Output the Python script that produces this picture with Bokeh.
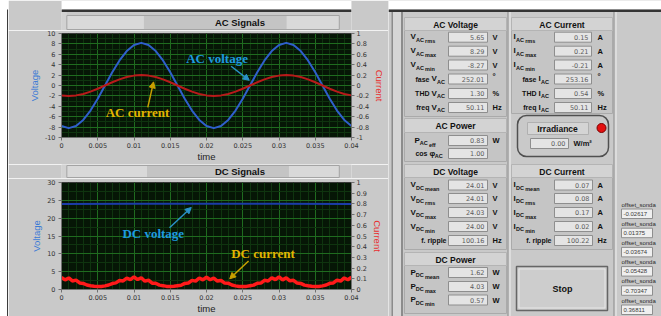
from bokeh.plotting import figure
from bokeh.models import Range1d, LinearAxis, FixedTicker, Label, Arrow, NormalHead
from bokeh.layouts import row, column
from bokeh.core.properties import value
from bokeh.embed import file_html
from bokeh.resources import INLINE

# ------------------------------------------------------------------ data
ac_time = [round(i * 0.001, 3) for i in range(41)]
ac_voltage = [-7.80, -8.20, -7.80, -6.63, -4.82, -2.53, 0.00, 2.53, 4.82, 6.63,
              7.80, 8.20, 7.80, 6.63, 4.82, 2.53, 0.00, -2.53, -4.82, -6.63,
              -7.80, -8.20, -7.80, -6.63, -4.82, -2.53, 0.00, 2.53, 4.82, 6.63,
              7.80, 8.20, 7.80, 6.63, 4.82, 2.53, 0.00, -2.53, -4.82, -6.63, -7.80]
ac_current = [-0.190, -0.200, -0.190, -0.162, -0.118, -0.062, 0.000, 0.062, 0.118, 0.162,
              0.190, 0.200, 0.190, 0.162, 0.118, 0.062, 0.000, -0.062, -0.118, -0.162,
              -0.190, -0.200, -0.190, -0.162, -0.118, -0.062, 0.000, 0.062, 0.118, 0.162,
              0.190, 0.200, 0.190, 0.162, 0.118, 0.062, 0.000, -0.062, -0.118, -0.162, -0.190]

dc_time = [round(i * 0.0005, 4) for i in range(81)]
dc_current = [0.112, 0.090, 0.108, 0.080, 0.088, 0.061, 0.057, 0.042, 0.035, 0.030,
              0.027, 0.029, 0.034, 0.042, 0.056, 0.062, 0.084, 0.080, 0.106, 0.092,
              0.118, 0.093, 0.110, 0.078, 0.087, 0.059, 0.058, 0.041, 0.036, 0.029,
              0.027, 0.030, 0.035, 0.040, 0.057, 0.061, 0.085, 0.078, 0.108, 0.090,
              0.116, 0.091, 0.107, 0.079, 0.085, 0.060, 0.059, 0.042, 0.034, 0.029,
              0.028, 0.029, 0.035, 0.041, 0.058, 0.060, 0.086, 0.080, 0.110, 0.092,
              0.117, 0.090, 0.109, 0.081, 0.086, 0.060, 0.057, 0.041, 0.035, 0.030,
              0.027, 0.029, 0.034, 0.042, 0.058, 0.061, 0.087, 0.079, 0.108, 0.091,
              0.114]
dc_voltage_time = [0.0, 0.01, 0.02, 0.03, 0.04]
dc_voltage = [24.00, 24.01, 24.02, 24.01, 24.00]

time_ticks = [0, 0.005, 0.01, 0.015, 0.02, 0.025, 0.03, 0.035, 0.04]
time_labels = ["0", "0.005", "0.01", "0.015", "0.02", "0.025", "0.03", "0.035", "0.04"]
ac_v_ticks = [-10, -8, -6, -4, -2, 0, 2, 4, 6, 8, 10]
ac_v_labels = ["-10", "-8", "-6", "-4", "-2", "0", "2", "4", "6", "8", "10"]
ac_i_ticks = [-1, -0.8, -0.6, -0.4, -0.2, 0, 0.2, 0.4, 0.6, 0.8, 1]
ac_i_labels = ["-1", "-0.8", "-0.6", "-0.4", "-0.2", "0", "0.2", "0.4", "0.6", "0.8", "1"]
dc_v_ticks = [0, 5, 10, 15, 20, 25, 30]
dc_v_labels = ["0", "5", "10", "15", "20", "25", "30"]
dc_i_ticks = [0, 0.1, 0.2, 0.3, 0.4, 0.5, 0.6, 0.7, 0.8, 0.9, 1]
dc_i_labels = ["0", "0.1", "0.2", "0.3", "0.4", "0.5", "0.6", "0.7", "0.8", "0.9", "1"]

ac_voltage_values = ["5.65", "8.29", "-8.27", "252.01", "1.30", "50.11"]
ac_voltage_units = ["V", "V", "V", "°", "%", "Hz"]
ac_current_values = ["0.15", "0.21", "-0.21", "253.16", "0.54", "50.11"]
ac_current_units = ["A", "A", "A", "°", "%", "Hz"]
ac_power_values = ["0.83", "1.00"]
ac_power_units = ["W", ""]
dc_voltage_values = ["24.01", "24.01", "24.03", "24.00", "100.16"]
dc_voltage_units = ["V", "V", "V", "V", "Hz"]
dc_current_values = ["0.07", "0.08", "0.17", "0.02", "100.22"]
dc_current_units = ["A", "A", "A", "A", "Hz"]
dc_power_values = ["1.62", "4.03", "0.57"]
dc_power_units = ["W", "W", "W"]
irradiance_value = "0.00"
offset_values = ["-0.02617", "0.01375", "-0.03674", "-0.05428", "-0.70347", "0.36811"]

# ------------------------------------------------------------------ style
PANEL = "#c9c9c9"
SANS = "Liberation Sans"
SERIF = "Liberation Serif"


def txt(p, x, y, s, size="7px", color="#111111", bold=True, align="left",
        baseline="middle", font=SANS):
    p.text(x=[x], y=[y], text=[s], text_font=value(font), text_font_size=size,
           text_color=color, text_font_style="bold" if bold else "normal",
           text_align=align, text_baseline=baseline)


def box(p, l, r, t, b, fill, line=None, lw=1):
    p.quad(left=[l], right=[r], top=[t], bottom=[b], fill_color=fill,
           line_color=line, line_width=lw)


def deco_fig(w, h, xr, yr, bg=PANEL):
    p = figure(width=w, height=h, x_range=Range1d(*xr), y_range=Range1d(*yr),
               x_axis_type=None, y_axis_type=None, output_backend="svg",
               toolbar_location=None, min_border=0)
    p.background_fill_color = bg
    p.border_fill_color = bg
    p.outline_line_color = None
    p.grid.visible = False
    return p


def overrides(ticks, labels):
    return dict(zip(ticks, labels))


def style_chart(p):
    p.background_fill_color = "#061606"
    p.border_fill_color = PANEL
    p.outline_line_color = "#3a3a3a"
    p.xaxis.ticker = FixedTicker(ticks=time_ticks,
                                 minor_ticks=[round(i * 0.001, 3) for i in range(41)])
    p.xaxis.major_label_overrides = overrides(time_ticks, time_labels)
    p.xaxis.axis_label = "time"
    p.xaxis.axis_label_text_color = "#222222"
    for ax in p.axis:
        ax.major_label_text_font = "DejaVu Sans"
        ax.major_label_text_font_size = "6.5px"
        ax.major_label_text_color = "#333333"
        ax.major_tick_out = 3
        ax.major_tick_in = 0
        ax.minor_tick_line_color = None
        ax.axis_line_color = "#707070"
        ax.major_tick_line_color = "#707070"
        ax.axis_label_text_font = SANS
        ax.axis_label_text_font_style = "normal"
        ax.axis_label_text_font_size = "9.5px"
        ax.major_label_standoff = 2
        ax.axis_label_standoff = 2
    p.xaxis.axis_label_standoff = 0
    p.xaxis.major_label_standoff = 1
    p.xgrid.grid_line_color = "#1f6b1f"
    p.ygrid.grid_line_color = "#1f6b1f"
    p.xgrid.minor_grid_line_color = "#0f340f"
    p.ygrid.minor_grid_line_color = "#0f340f"


# ------------------------------------------------------------------ AC chart
ac = figure(width=380, height=134, x_range=Range1d(0, 0.04), y_range=Range1d(-10, 10),
            output_backend="svg", toolbar_location=None,
            min_border_left=53, min_border_right=35, min_border_top=3, min_border_bottom=21)
ac.extra_y_ranges = {"cur": Range1d(-1, 1)}
ac.add_layout(LinearAxis(y_range_name="cur", axis_label="Current",
                         ticker=FixedTicker(ticks=ac_i_ticks),
                         major_label_overrides=overrides(ac_i_ticks, ac_i_labels)), "right")
ac.yaxis[0].ticker = FixedTicker(ticks=ac_v_ticks, minor_ticks=list(range(-10, 11)))
ac.yaxis[0].major_label_overrides = overrides(ac_v_ticks, ac_v_labels)
ac.yaxis[0].axis_label = "Voltage"
style_chart(ac)
ac.yaxis[0].axis_label_text_color = "#3a7ad6"
ac.yaxis[1].axis_label_text_color = "#e83030"

ac.line(ac_time, ac_voltage, line_color="#2f5fcc", line_width=2)
ac.line(ac_time, ac_current, y_range_name="cur", line_color="#b81a1a", line_width=2)

ac.add_layout(Label(x=0.0172, y=5.2, text="AC voltage", text_font=SERIF,
                    text_font_style="bold", text_font_size="13px",
                    text_color="#1e9be0", text_baseline="middle"))
ac.add_layout(Arrow(end=NormalHead(size=6, fill_color="#2a92c8", line_color="#2a92c8"),
                    x_start=0.0234, y_start=3.7, x_end=0.0259, y_end=1.0,
                    line_color="#2a92c8", line_width=1.5))
ac.add_layout(Label(x=0.0061, y=-5.1, text="AC current", text_font=SERIF,
                    text_font_style="bold", text_font_size="13px",
                    text_color="#e2b400", text_baseline="middle"))
ac.add_layout(Arrow(end=NormalHead(size=6, fill_color="#c8a000", line_color="#c8a000"),
                    x_start=0.0119, y_start=-4.2, x_end=0.0127, y_end=0.7,
                    line_color="#c8a000", line_width=1.5))

# ------------------------------------------------------------------ DC chart
dc = figure(width=380, height=138, x_range=Range1d(0, 0.04), y_range=Range1d(0, 30),
            output_backend="svg", toolbar_location=None,
            min_border_left=50, min_border_right=36, min_border_top=4, min_border_bottom=25)
dc.extra_y_ranges = {"cur": Range1d(0, 1)}
dc.add_layout(LinearAxis(y_range_name="cur", axis_label="Current",
                         ticker=FixedTicker(ticks=dc_i_ticks),
                         major_label_overrides=overrides(dc_i_ticks, dc_i_labels)), "right")
dc.yaxis[0].ticker = FixedTicker(ticks=dc_v_ticks,
                                 minor_ticks=[0, 2.5, 5, 7.5, 10, 12.5, 15, 17.5, 20, 22.5, 25, 27.5, 30])
dc.yaxis[0].major_label_overrides = overrides(dc_v_ticks, dc_v_labels)
dc.yaxis[0].axis_label = "Voltage"
style_chart(dc)
dc.yaxis[0].axis_label_text_color = "#3a7ad6"
dc.yaxis[1].axis_label_text_color = "#e83030"

dc.line(dc_voltage_time, dc_voltage, line_color="#1b3ca8", line_width=2)
dc.line(dc_time, dc_current, y_range_name="cur", line_color="#ff1a1a", line_width=3.5)

dc.add_layout(Label(x=0.0084, y=15.8, text="DC voltage", text_font=SERIF,
                    text_font_style="bold", text_font_size="13px",
                    text_color="#1e9be0", text_baseline="middle"))
dc.add_layout(Arrow(end=NormalHead(size=6, fill_color="#2a92c8", line_color="#2a92c8"),
                    x_start=0.0149, y_start=17.3, x_end=0.0179, y_end=23.0,
                    line_color="#2a92c8", line_width=1.5))
dc.add_layout(Label(x=0.0234, y=10.2, text="DC current", text_font=SERIF,
                    text_font_style="bold", text_font_size="13px",
                    text_color="#e2b400", text_baseline="middle"))
dc.add_layout(Arrow(end=NormalHead(size=6, fill_color="#c8a000", line_color="#c8a000"),
                    x_start=0.0258, y_start=8.0, x_end=0.0232, y_end=3.0,
                    line_color="#c8a000", line_width=1.5))

# ------------------------------------------------------------------ left white margin
strip = deco_fig(8, 316, (0, 8), (316, 0), bg="#ffffff")
box(strip, 6.5, 8, 9, 316, "#3c3c3c")

# ------------------------------------------------------------------ title bars
act = deco_fig(380, 30, (8, 388), (30, 0))
box(act, 8, 388, 0, 9, "#ffffff")
box(act, 8, 388, 9, 11.5, "#343434")
box(act, 8, 15, 11.5, 30, "#d2d2d2")
box(act, 15, 372, 15, 29, "#d9d9d9", "#a4a4a4")
box(act, 116, 303, 15.5, 28.5, "#c4c4c4")
txt(act, 209, 22.3, "AC Signals", "9.5px")

dct = deco_fig(380, 14, (8, 388), (178, 164))
box(dct, 8, 15, 164, 178, "#d2d2d2")
box(dct, 15, 372, 165, 177, "#d9d9d9", "#a4a4a4")
box(dct, 120, 306, 165.5, 176.5, "#c4c4c4")
txt(dct, 209, 171.2, "DC Signals", "9.5px")

# ------------------------------------------------------------------ right panel
rp = deco_fig(273, 316, (388, 661), (316, 0))
box(rp, 388, 661, 0, 9, "#ffffff")
box(rp, 388, 661, 9, 11.5, "#343434")
box(rp, 391, 392.5, 11.5, 316, "#8c8c8c")
box(rp, 392.5, 400.5, 11.5, 316, "#d6d6d6")
box(rp, 400.5, 402.5, 11.5, 316, "#8c8c8c")
box(rp, 507, 508.2, 11.5, 316, "#8a8a8a")
box(rp, 508.2, 510.5, 11.5, 316, "#dcdcdc")
box(rp, 613, 614.2, 11.5, 316, "#8a8a8a")
box(rp, 614.2, 616.5, 11.5, 316, "#dcdcdc")

# group bodies and header bands
for l, r, t, b in [(404, 506, 30, 116), (404, 506, 132, 161), (404, 506, 177, 249),
                   (404, 506, 265, 313), (511, 612, 30, 113), (511, 612, 177, 249)]:
    box(rp, l, r, t, b, "#c5c5c5", "#aaaaaa")
for l, r, t, b, name in [(404, 506, 17, 30, "AC Voltage"), (511, 612, 17, 30, "AC Current"),
                         (404, 506, 118, 132, "AC Power"), (404, 506, 164, 177, "DC Voltage"),
                         (511, 612, 164, 177, "DC Current"), (404, 506, 252, 265, "DC Power")]:
    box(rp, l, r, t, b, "#d3d3d3", "#b4b4b4")
    txt(rp, (l + r) / 2, (t + b) / 2 + 0.5, name, "8.5px", align="center")

MAIN_W = {"V": 5.5, "I": 2.6, "P": 5.3, "φ": 5.2}


def row_label(p, xm, y, pre, main, sub, sub2):
    if pre:
        txt(p, xm - 2 if main else xm, y, pre, "7px", align="right")
    if main:
        txt(p, xm, y - 0.5, main, "8px")
        xs = xm + MAIN_W[main]
        txt(p, xs, y + 2.5, sub, "5.5px")
        if sub2:
            txt(p, xs + 3.8 * len(sub) + 1.5, y + 4, sub2, "5.5px")


def value_row(p, x0, x1, y, val, unit, ux):
    box(p, x0, x1, y - 5, y + 5, "#e4e4e4", "#8e8e8e")
    txt(p, x1 - 3, y + 0.3, val, "6.5px", color="#5c5c5c", bold=False,
        align="right", font="DejaVu Sans")
    if unit == "°":
        txt(p, ux, y - 2.5, unit, "8px")
    elif unit:
        txt(p, ux, y, unit, "7.5px")


def section(p, ys, labels, vals, units, bx0, bx1, ux):
    for y, (pre, main, sub, sub2, xm), v, u in zip(ys, labels, vals, units):
        row_label(p, xm, y, pre, main, sub, sub2)
        value_row(p, bx0, bx1, y, v, u, ux)


ac_v_rows = [("", "V", "AC", "rms", 410), ("", "V", "AC", "max", 410), ("", "V", "AC", "min", 410),
             ("fase", "V", "AC", "", 431), ("THD", "V", "AC", "", 431), ("freq", "V", "AC", "", 431)]
ac_i_rows = [("", "I", "AC", "rms", 513), ("", "I", "AC", "max", 513), ("", "I", "AC", "min", 513),
             ("fase", "I", "AC", "", 538), ("THD", "I", "AC", "", 538), ("freq", "I", "AC", "", 538)]
ac_p_rows = [("", "P", "AC", "eff", 414), ("cos", "φ", "AC", "", 429)]
dc_v_rows = [("", "V", "DC", "mean", 410), ("", "V", "DC", "rms", 410), ("", "V", "DC", "max", 410),
             ("", "V", "DC", "min", 410), ("f. ripple", "", "", "", 446)]
dc_i_rows = [("", "I", "DC", "mean", 513), ("", "I", "DC", "rms", 513), ("", "I", "DC", "max", 513),
             ("", "I", "DC", "min", 513), ("f. ripple", "", "", "", 551)]
dc_p_rows = [("", "P", "DC", "mean", 410), ("", "P", "DC", "max", 410), ("", "P", "DC", "min", 410)]

ac_rows_y = [36.7, 50.7, 64.5, 78.5, 93.0, 107.0]
section(rp, ac_rows_y, ac_v_rows, ac_voltage_values, ac_voltage_units, 448, 487, 492)
section(rp, ac_rows_y, ac_i_rows, ac_current_values, ac_current_units, 554, 591, 597)
section(rp, [140, 153], ac_p_rows, ac_power_values, ac_power_units, 448, 487, 492)
dc_rows_y = [184.5, 198.0, 212.0, 226.0, 240.0]
section(rp, dc_rows_y, dc_v_rows, dc_voltage_values, dc_voltage_units, 448, 487, 492)
section(rp, dc_rows_y, dc_i_rows, dc_current_values, dc_current_units, 554, 592, 597)
section(rp, [272, 286, 299.5], dc_p_rows, dc_power_values, dc_power_units, 448, 487, 492)

# irradiance
rp.quad(left=[517], right=[608], top=[115], bottom=[156], fill_color=None,
        line_color="#505050", line_width=1.5, border_radius=9)
box(rp, 527, 588, 122, 134, "#d4d4d4", "#b0b0b0")
txt(rp, 557, 128.3, "Irradiance", "8.5px", align="center")
rp.scatter(x=[601], y=[127.5], size=9, fill_color="#e41010", line_color="#7a0000")
value_row(rp, 530, 568, 143, irradiance_value, "", 0)
txt(rp, 573, 143, "W/m²", "7.5px")

# stop button
box(rp, 516, 607, 266, 310, "#cdcdcd", "#666666", 1.5)
rp.quad(left=[518.5], right=[604.5], top=[268.5], bottom=[307.5], fill_color=None,
        line_color="#e6e6e6", line_width=1)
txt(rp, 562, 288.5, "Stop", "9px", align="center")

# offset column
for i, v in enumerate(offset_values):
    ly = 204 + i * 19.2
    txt(rp, 621, ly, "offset_sonda", "6px", color="#2a2a2a", bold=False)
    box(rp, 621, 652, ly + 4.5, ly + 14, "#efefef", "#8e8e8e")
    txt(rp, 623, ly + 9.3, v, "6px", color="#3a3a3a", bold=False)

layout = row(strip, column(act, ac, dct, dc), rp)
open("out.html", "w", encoding="utf-8").write(file_html(layout, INLINE))
